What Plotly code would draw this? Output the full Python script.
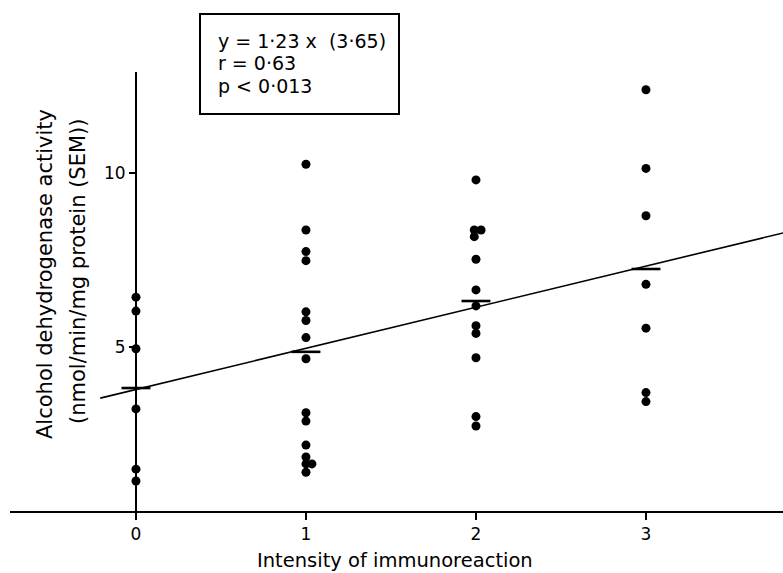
import plotly.graph_objects as go

# ---- data ----
x_tickvals = [0, 1, 2, 3]
x_ticklabels = ["0", "1", "2", "3"]
y_tickvals = [5, 10]
y_ticklabels = ["5", "10"]

g0_x = [0, 0, 0, 0, 0, 0]
g0_y = [6.43, 6.03, 4.95, 3.22, 1.49, 1.15]

g1_x = [1, 1, 1, 1, 1, 1, 1, 1, 1, 1, 1, 1, 1, 1.035, 1]
g1_y = [10.25, 8.36, 7.74, 7.48, 6.01, 5.76, 5.27, 4.66, 3.11, 2.87, 2.18, 1.84, 1.64, 1.64, 1.40]

g2_x = [2, 1.99, 2.03, 1.99, 2, 2, 2, 2, 2, 2, 2, 2]
g2_y = [9.80, 8.36, 8.36, 8.17, 7.52, 6.64, 6.18, 5.61, 5.39, 4.69, 3.00, 2.73]

g3_x = [3, 3, 3, 3, 3, 3, 3]
g3_y = [12.39, 10.13, 8.77, 6.80, 5.54, 3.69, 3.43]

group_x = [0, 1, 2, 3]
group_means = [3.82, 4.86, 6.32, 7.24]

line_x = [-0.21, 3.81]
line_y = [3.53, 8.28]

stats_lines = ["y = 1·23 x  (3·65)", "r = 0·63", "p < 0·013"]
x_title = "Intensity of immunoreaction"
y_title_lines = ["Alcohol dehydrogenase activity", "(nmol/min/mg protein (SEM))"]

# ---- layout geometry ----
W, H = 783, 573
L, R, T, B = 10, 0, 72, 62
XR = [-0.741, 3.806]
YR = [0.287, 12.90]
FONT = "DejaVu Sans"


def px(xp):
    return (xp - L) / (W - L - R)


def py(yp):
    return (H - B - yp) / (H - T - B)


fig = go.Figure()

pts_x = g0_x + g1_x + g2_x + g3_x
pts_y = g0_y + g1_y + g2_y + g3_y
fig.add_trace(go.Scatter(x=pts_x, y=pts_y, mode="markers",
                         marker=dict(color="black", size=9), hoverinfo="skip"))

fig.add_trace(go.Scatter(x=line_x, y=line_y, mode="lines",
                         line=dict(color="black", width=1.6), hoverinfo="skip"))

hw = 0.085
mx, my = [], []
for gx, gm in zip(group_x, group_means):
    mx += [gx - hw, gx + hw, None]
    my += [gm, gm, None]
fig.add_trace(go.Scatter(x=mx, y=my, mode="lines",
                         line=dict(color="black", width=2.6), hoverinfo="skip"))

annotations = []
for i, (txt, yp) in enumerate(zip(stats_lines, [41, 63, 86])):
    annotations.append(dict(text=txt, x=px(216), y=py(yp), xref="paper", yref="paper",
                            xanchor="left", yanchor="middle", showarrow=False,
                            font=dict(family=FONT, size=19, color="black")))
annotations.append(dict(text=x_title, x=px(395), y=py(560), xref="paper", yref="paper",
                        xanchor="center", yanchor="middle", showarrow=False,
                        font=dict(family=FONT, size=19.5, color="black")))
for txt, xp, yp in zip(y_title_lines, [45, 78], [274, 272]):
    annotations.append(dict(text=txt, x=px(xp), y=py(yp), xref="paper", yref="paper",
                            xanchor="center", yanchor="middle", showarrow=False,
                            textangle=-90,
                            font=dict(family=FONT, size=21, color="black")))

fig.update_layout(
    width=W, height=H,
    margin=dict(l=L, r=R, t=T, b=B, pad=0),
    paper_bgcolor="white", plot_bgcolor="white",
    showlegend=False,
    xaxis=dict(range=XR, showgrid=False, zeroline=False,
               showline=True, linecolor="black", linewidth=2,
               ticks="outside", ticklen=7, tickwidth=1.5, tickcolor="black",
               tickvals=x_tickvals, ticktext=x_ticklabels,
               tickfont=dict(family=FONT, size=17, color="black")),
    yaxis=dict(range=YR, showgrid=False, zeroline=False,
               anchor="free", position=(0 - XR[0]) / (XR[1] - XR[0]),
               showline=True, linecolor="black", linewidth=2,
               ticks="outside", ticklen=6, tickwidth=1.5, tickcolor="black",
               tickvals=y_tickvals, ticktext=y_ticklabels,
               tickfont=dict(family=FONT, size=17, color="black")),
    annotations=annotations,
    shapes=[dict(type="rect", xref="paper", yref="paper",
                 x0=px(200), x1=px(399), y0=py(114), y1=py(14),
                 line=dict(color="black", width=2), fillcolor="rgba(0,0,0,0)")],
)

fig.write_html("out.html", config={"displayModeBar": False},
               post_script="document.body.style.margin='0';document.body.style.padding='0';")
